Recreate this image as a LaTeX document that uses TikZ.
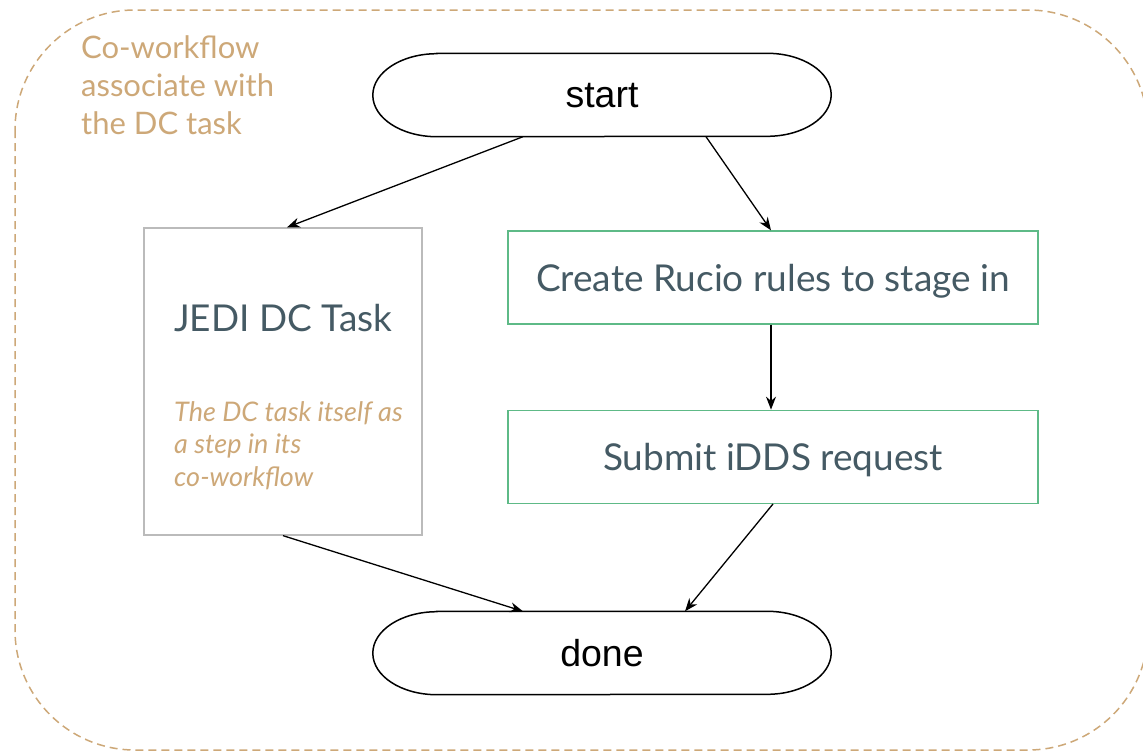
\documentclass[tikz,border=0pt]{standalone}
\usepackage{fontspec}
\setmainfont{Lato}
\newfontfamily\termfont{Liberation Sans}
\usepackage{tikz}
\usetikzlibrary{arrows.meta, calc, positioning}
\definecolor{tan}{RGB}{205,168,120}
\definecolor{slate}{RGB}{69,90,100}
\definecolor{stepgreen}{RGB}{94,186,135}
\definecolor{boxgray}{RGB}{187,187,187}
\tikzstyle{terminal} = [rectangle, minimum width=458pt, minimum height=83pt, text centered, text depth=0pt, font=\termfont\fontsize{37.5}{44}\selectfont]
\tikzstyle{stepbox} = [rectangle, line width=1.3pt, draw=stepgreen, minimum width=530pt, minimum height=93pt, text centered, text depth=0pt, text=slate, font=\fontsize{37}{44}\selectfont]
\tikzstyle{task} = [rectangle, line width=1.3pt, draw=boxgray, minimum width=278pt, minimum height=307pt]
\tikzstyle{note} = [text=tan, align=left, anchor=north west, inner sep=0pt]
\tikzstyle{arrow} = [line width=1.3pt,-{Stealth[length=13pt,width=10pt]}]
\tikzstyle{group} = [draw=tan, line width=1.5pt, dash pattern=on 8pt off 5pt, rounded corners=120pt]

\begin{document}
\begin{tikzpicture}[x=1pt, y=-1pt, node distance = 85pt]
	\useasboundingbox (0,0) rectangle (1143,755);
	\draw [group] (15,10) rectangle (1148,750);
	\node (GroupLabel) [note, font=\fontsize{31}{38}\selectfont] at (81,35) {Co-workflow\\associate with\\the DC task};
	\node (Start) [terminal] at (602,95) {start};
	\node (Rucio) [stepbox] at (773,277.5) {Create Rucio rules to stage in};
	\node (Submit) [stepbox, below = of Rucio] {Submit iDDS request};
	\node (Jedi) [task] at (283,381.5) {};
	\node (JediTitle) [text=slate, anchor=west, inner sep=0pt, font=\fontsize{37}{44}\selectfont] at (174,318) {JEDI DC Task};
	\node (JediNote) [note, font=\itshape\fontsize{27}{32.5}\selectfont] at (174,401) {The DC task itself as\\a step in its\\co-workflow};
	\node (Done) [terminal] at (602,653) {done};
	\foreach \n in {Start,Done}
		\draw [line width=1.5pt] ([xshift=64pt]\n.north west) -- ([xshift=-64pt]\n.north east)
			arc[start angle=90, end angle=-90, x radius=64pt, y radius=41.5pt]
			-- ([xshift=64pt]\n.south west)
			arc[start angle=270, end angle=90, x radius=64pt, y radius=41.5pt] -- cycle;
	\draw [arrow] ([xshift=-79pt]Start.south) -- ([xshift=4pt]Jedi.north);
	\draw [arrow] ([xshift=104pt]Start.south) -- ([xshift=-2pt]Rucio.north);
	\draw [arrow] ([xshift=-2pt]Rucio.south) -- ([xshift=-2pt]Submit.north);
	\draw [arrow] (Jedi.south) -- ([xshift=-79pt]Done.north);
	\draw [arrow] (Submit.south) -- ([xshift=83pt]Done.north);
\end{tikzpicture}
\end{document}
